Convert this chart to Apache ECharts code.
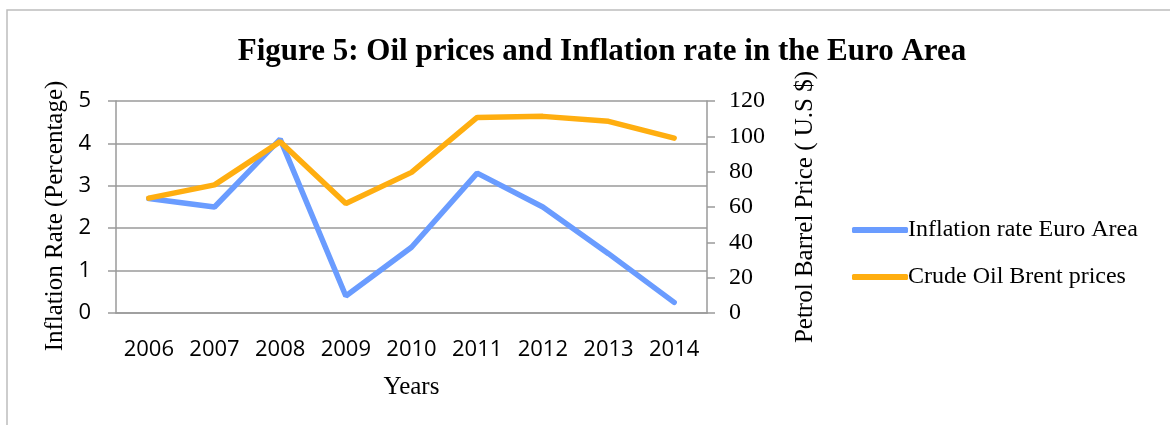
<!DOCTYPE html>
<html>
<head>
<meta charset="utf-8">
<script src="https://cdn.jsdelivr.net/npm/echarts@6/dist/echarts.min.js"></script>
<style>
  html, body { margin: 0; padding: 0; background: #fff; }
  #chart { width: 1170px; height: 425px; }
</style>
</head>
<body>
<div id="chart"></div>
<script>
// values
const years = ["2006", "2007", "2008", "2009", "2010", "2011", "2012", "2013", "2014"];
const inflation = [2.7, 2.5, 4.1, 0.4, 1.55, 3.3, 2.5, 1.4, 0.25];
const brent = [65, 72.5, 97, 62, 79.6, 110.7, 111.3, 108.5, 99];
const leftTicks = [0, 1, 2, 3, 4, 5];
const rightTicks = [0, 20, 40, 60, 80, 100, 120];

const serif = "'Liberation Serif', 'DejaVu Serif', serif";
const sans = "'Open Sans', 'Liberation Sans', sans-serif";
const gray = "#9a9a9a";

const chart = echarts.init(document.getElementById("chart"));
chart.setOption({
    animation: false,
    backgroundColor: "#fff",
    title: {
        text: "Figure 5: Oil prices and Inflation rate in the Euro Area",
        left: 597,
        top: 31,
        textAlign: "center",
        textStyle: {
            fontFamily: serif,
            fontWeight: "bold",
            fontSize: 31,
            color: "#000"
        }
    },
    graphic: [{
        type: "rect",
        shape: { x: 7, y: 10, width: 1300, height: 600 },
        style: { fill: "none", stroke: "#bdbdbd", lineWidth: 1.5 },
        silent: true
    }],
    legend: {
        orient: "vertical",
        left: 847,
        top: 213,
        itemWidth: 56,
        itemHeight: 6,
        itemGap: 23,
        icon: "roundRect",
        data: ["Inflation rate Euro Area", "Crude Oil Brent prices"],
        textStyle: { fontFamily: serif, fontSize: 24, color: "#000", padding: [0, 0, 0, -5] }
    },
    grid: { left: 116, right: 463, top: 101, bottom: 112 },
    xAxis: {
        type: "category",
        data: years,
        boundaryGap: true,
        name: "Years",
        nameLocation: "middle",
        nameGap: 62,
        nameTextStyle: { fontFamily: serif, fontSize: 25, color: "#000" },
        axisLine: { lineStyle: { color: gray, width: 1.5 } },
        axisTick: { show: false },
        axisLabel: { fontFamily: sans, fontSize: 22, color: "#000", margin: 26 }
    },
    yAxis: [{
        type: "value",
        min: leftTicks[0],
        max: leftTicks[leftTicks.length - 1],
        interval: 1,
        name: "Inflation Rate (Percentage)",
        nameLocation: "middle",
        nameRotate: 90,
        nameGap: 47,
        nameTextStyle: { fontFamily: serif, fontSize: 25, color: "#000", padding: [0, 0, 0, -18] },
        axisLine: { show: true, lineStyle: { color: gray, width: 1.5 } },
        axisTick: { show: true, length: 8, lineStyle: { color: gray, width: 1.5 } },
        axisLabel: { fontFamily: sans, fontSize: 22, color: "#000", margin: 25 },
        splitLine: { show: true, lineStyle: { color: gray, width: 1.5 } }
    }, {
        type: "value",
        position: "right",
        min: rightTicks[0],
        max: rightTicks[rightTicks.length - 1],
        interval: 20,
        name: "Petrol Barrel Price ( U.S $)",
        nameLocation: "middle",
        nameRotate: 90,
        nameGap: 86,
        nameTextStyle: { fontFamily: serif, fontSize: 25, color: "#000" },
        axisLine: { show: true, lineStyle: { color: gray, width: 1.5 } },
        axisTick: { show: true, length: 8, lineStyle: { color: gray, width: 1.5 } },
        axisLabel: { fontFamily: serif, fontSize: 24, color: "#000", margin: 22 },
        splitLine: { show: false }
    }],
    series: [{
        name: "Inflation rate Euro Area",
        type: "line",
        yAxisIndex: 0,
        data: inflation,
        showSymbol: false,
        lineStyle: { color: "#6a9cff", width: 5.5, cap: "round" },
        itemStyle: { color: "#6a9cff" }
    }, {
        name: "Crude Oil Brent prices",
        type: "line",
        yAxisIndex: 1,
        data: brent,
        showSymbol: false,
        lineStyle: { color: "#ffae10", width: 5.5, cap: "round" },
        itemStyle: { color: "#ffae10" }
    }]
});
</script>
</body>
</html>
